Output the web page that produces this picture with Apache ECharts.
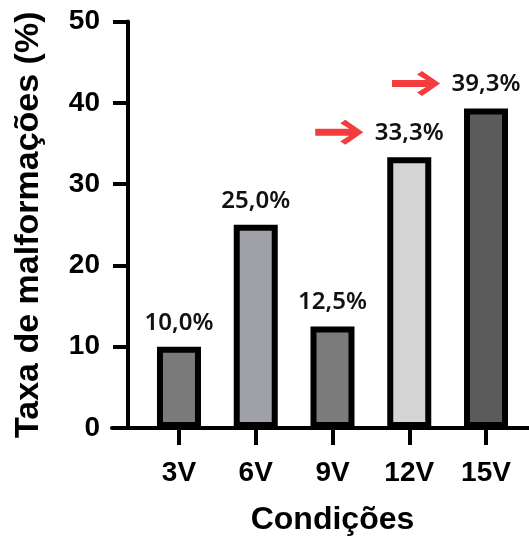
<!DOCTYPE html>
<html>
<head>
<meta charset="utf-8">
<script src="https://cdn.jsdelivr.net/npm/echarts@6/dist/echarts.min.js"></script>
<style>
  html, body { margin: 0; padding: 0; background: #fff; }
  #chart { width: 529px; height: 536px; }
</style>
</head>
<body>
<div id="chart"></div>
<script>
// condições e taxas
var categories = ['3V', '6V', '9V', '12V', '15V']
var rates = [10.0, 25.0, 12.5, 33.3, 39.3] // taxa de malformações (%)
var arrowed = ['12V', '15V'] // barras marcadas com seta vermelha

var barColors = ['#7a7a7a', '#a0a0a7', '#7b7b7b', '#d4d4d4', '#5b5b5b']
var font = '"Liberation Sans", Arial, sans-serif'
// seta vermelha
var arrowPath = 'path://M0,9 L34,9 L25,3.5 L30,0 L48,12.5 L30,25 L25,21.5 L34,16 L0,16 Z'

var chart = echarts.init(document.getElementById('chart'))
chart.setOption({
  animation: false,
  backgroundColor: '#fff',
  grid: [
    { left: 140.6, right: 4.6, top: 21.5, bottom: 108, outerBoundsMode: 'none', containLabel: false },
    { left: 112, right: 0, top: 21.5, bottom: 108, outerBoundsMode: 'none', containLabel: false } // só para a linha do eixo x
  ],
  xAxis: [{
    type: 'category',
    data: categories,
    name: 'Condições',
    nameLocation: 'middle',
    nameGap: 76,
    nameTextStyle: { color: '#000', fontSize: 32, fontWeight: 'bold', fontFamily: font },
    axisLine: { show: false },
    axisTick: { show: true, alignWithLabel: true, length: 17, lineStyle: { color: '#000', width: 4 } },
    axisLabel: { color: '#000', fontSize: 28, fontWeight: 'bold', fontFamily: font, margin: 31 },
    splitLine: { show: false }
  }, {
    type: 'value',
    gridIndex: 1,
    axisLine: { show: true, lineStyle: { color: '#000', width: 4 } },
    axisTick: { show: false },
    axisLabel: { show: false },
    splitLine: { show: false }
  }],
  yAxis: [{
    type: 'value',
    min: 0,
    max: 50,
    interval: 10,
    offset: 12.6,
    name: 'Taxa de malformações (%)',
    nameLocation: 'middle',
    nameGap: 82,
    nameTextStyle: { color: '#000', fontSize: 34, fontWeight: 'bold', fontFamily: font },
    axisLine: { show: true, lineStyle: { color: '#000', width: 4 } },
    axisTick: { show: true, length: 15, lineStyle: { color: '#000', width: 4 } },
    axisLabel: { color: '#000', fontSize: 28, fontWeight: 'bold', fontFamily: font, margin: 28 },
    splitLine: { show: false }
  }, {
    type: 'value',
    gridIndex: 1,
    show: false
  }],
  series: [{
    type: 'bar',
    barWidth: 44,
    data: rates.map(function (v, i) {
      return { value: v, itemStyle: { color: barColors[i] } }
    }),
    itemStyle: { borderColor: '#000', borderWidth: 6 },
    label: {
      show: true,
      position: 'top',
      distance: 11,
      color: '#111',
      fontSize: 24,
      lineHeight: 26,
      fontWeight: 600,
      fontFamily: '"Noto Sans", sans-serif',
      formatter: function (p) {
        return p.value.toFixed(1).replace('.', ',') + '%'
      }
    }
  }, {
    type: 'scatter',
    symbol: arrowPath,
    symbolSize: [48, 25],
    symbolOffset: [-70, -25],
    itemStyle: { color: '#f43c3c', opacity: 1 },
    z: 5,
    data: categories.map(function (c, i) {
      return arrowed.indexOf(c) >= 0 ? rates[i] : '-'
    })
  }]
})
</script>
</body>
</html>
